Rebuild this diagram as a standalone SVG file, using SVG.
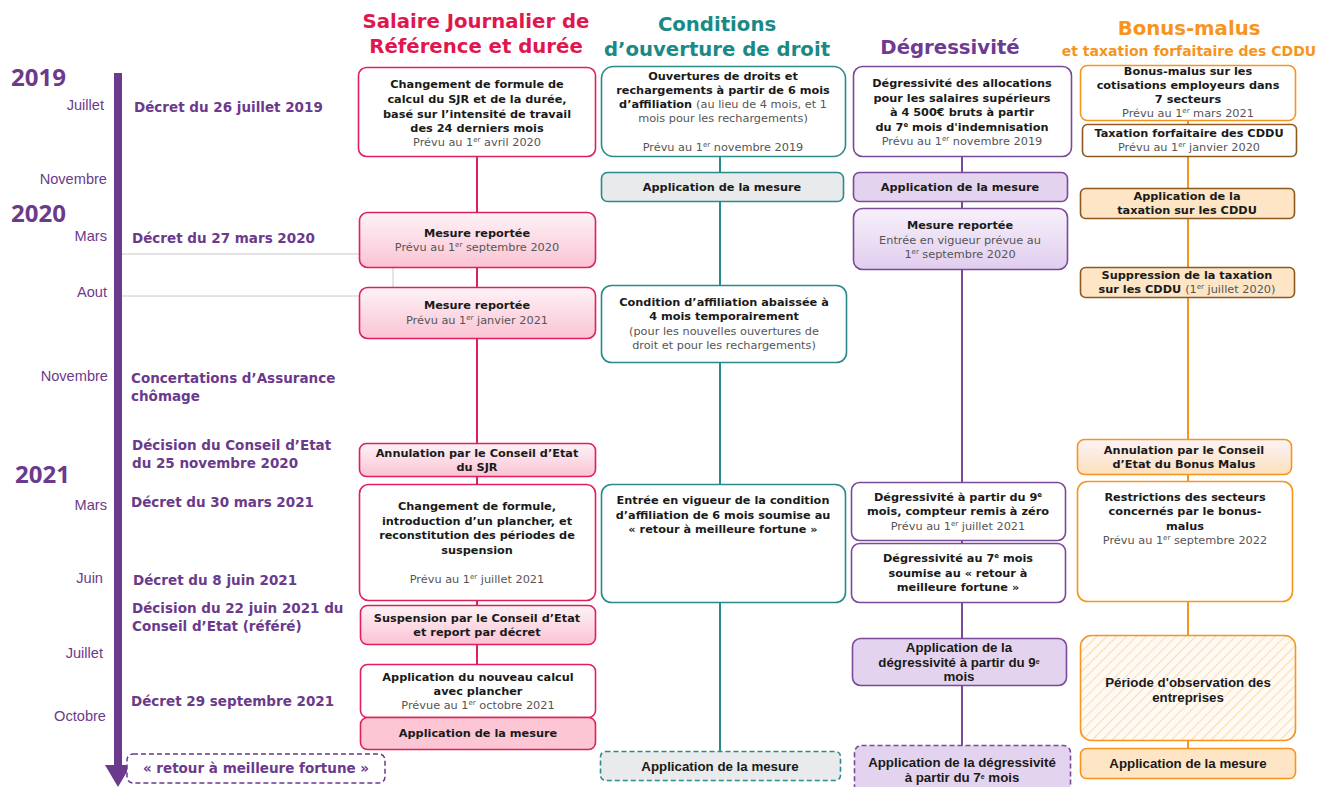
<svg xmlns="http://www.w3.org/2000/svg" width="1318" height="787" viewBox="0 0 1318 787">
<style>
text{font-family:"DejaVu Sans","Open Sans",sans-serif}
.b{font-weight:700;font-size:11.3px;fill:#1a1a1a;text-anchor:middle}
.r{font-weight:400;fill:#555}
.k{font-family:"Liberation Sans",Arial,sans-serif;font-weight:700;font-size:13.3px;fill:#1a1a1a;text-anchor:middle}
.ev{font-weight:700;font-size:13.5px;fill:#6b3a8c}
.mo{font-family:"Liberation Sans",Arial,sans-serif;font-size:14.6px;fill:#6b3a8c;text-anchor:end}
.yr{font-family:"Open Sans",sans-serif;font-weight:700;font-size:24px;fill:#6b3a8c}
.hd{font-weight:700;font-size:19.7px;text-anchor:middle}
.sup{font-size:7px}
.red{fill:none;stroke:#e0205a;stroke-width:1.6}
.tea{fill:none;stroke:#2a8a8a;stroke-width:1.6}
.pur{fill:none;stroke:#7a4a9a;stroke-width:1.6}
.ora{fill:none;stroke:#f7941d;stroke-width:1.6}
.brn{fill:none;stroke:#8c5a1f;stroke-width:1.6}
</style>
<defs>
<linearGradient id="gPink" x1="0" y1="0" x2="0" y2="1"><stop offset="0" stop-color="#fdf3f7"/><stop offset="1" stop-color="#fbc3d4"/></linearGradient>
<linearGradient id="gPur" x1="0" y1="0" x2="0" y2="1"><stop offset="0" stop-color="#f7f1fb"/><stop offset="1" stop-color="#e1cdee"/></linearGradient>
<linearGradient id="gOra" x1="0" y1="0" x2="0" y2="1"><stop offset="0" stop-color="#fbf3f7"/><stop offset="1" stop-color="#fde0bd"/></linearGradient>
<pattern id="hatch" width="7" height="7" patternUnits="userSpaceOnUse" patternTransform="rotate(45)"><rect width="7" height="7" fill="#fffaf3"/><line x1="0" y1="0" x2="0" y2="7" stroke="#f9dcb5" stroke-width="2.2"/></pattern>
</defs>
<rect width="1318" height="787" fill="#ffffff"/>

<!-- timeline -->
<g id="timeline">
<rect x="114" y="73" width="8" height="695" fill="#6b3a8c"/>
<polygon points="105,765 131,765 118,787" fill="#6b3a8c"/>
<line x1="122" y1="254" x2="359" y2="254" stroke="#c8c8c8" stroke-width="1"/>
<line x1="122" y1="296" x2="359" y2="296" stroke="#c8c8c8" stroke-width="1"/>
<line x1="393" y1="267" x2="393" y2="287" stroke="#c8c8c8" stroke-width="1"/>
<text class="yr" x="11" y="86">2019</text>
<text class="yr" x="11" y="222">2020</text>
<text class="yr" x="15" y="483">2021</text>
<text class="mo" x="104" y="110">Juillet</text>
<text class="mo" x="107" y="184">Novembre</text>
<text class="mo" x="107" y="241">Mars</text>
<text class="mo" x="107" y="297">Aout</text>
<text class="mo" x="108" y="381">Novembre</text>
<text class="mo" x="107" y="510">Mars</text>
<text class="mo" x="103" y="583">Juin</text>
<text class="mo" x="103" y="658">Juillet</text>
<text class="mo" x="106" y="721">Octobre</text>
<text class="ev" x="134" y="112">Décret du 26 juillet 2019</text>
<text class="ev" x="132" y="243">Décret du 27 mars 2020</text>
<text class="ev" x="131" y="383">Concertations d’Assurance</text>
<text class="ev" x="131" y="401">chômage</text>
<text class="ev" x="132" y="450">Décision du Conseil d’Etat</text>
<text class="ev" x="132" y="468">du 25 novembre 2020</text>
<text class="ev" x="131" y="507">Décret du 30 mars 2021</text>
<text class="ev" x="133" y="585">Décret du 8 juin 2021</text>
<text class="ev" x="132" y="613">Décision du 22 juin 2021 du</text>
<text class="ev" x="132" y="631">Conseil d’Etat (référé)</text>
<text class="ev" x="131" y="706">Décret 29 septembre 2021</text>
</g>
<g id="retour">
<rect x="127" y="754" width="258" height="29" rx="6" fill="#fff" stroke="#6b3a8c" stroke-width="1.5" stroke-dasharray="5,3"/>
<text class="ev" x="256" y="773" text-anchor="middle">« retour à meilleure fortune »</text>
</g>

<!-- headers -->
<g id="headers">
<text class="hd" x="476" y="28" fill="#e0174f">Salaire Journalier de</text>
<text class="hd" x="476" y="53" fill="#e0174f">Référence et durée</text>
<text class="hd" x="717" y="31" fill="#1a8a87">Conditions</text>
<text class="hd" x="717" y="56" fill="#1a8a87">d’ouverture de droit</text>
<text class="hd" x="950" y="54" fill="#6f3a92">Dégressivité</text>
<text class="hd" x="1189" y="35" fill="#f7941d">Bonus-malus</text>
<text class="hd" x="1189" y="56" fill="#f7941d" style="font-size:14px">et taxation forfaitaire des CDDU</text>
</g>

<!-- connectors -->
<g id="connectors">
<line x1="477" y1="157" x2="477" y2="717" stroke="#e0205a" stroke-width="2"/>
<line x1="720" y1="156" x2="720" y2="751" stroke="#2a8a8a" stroke-width="2"/>
<line x1="962" y1="156" x2="962" y2="746" stroke="#7a4a9a" stroke-width="2"/>
<line x1="1188" y1="120" x2="1188" y2="748" stroke="#f7941d" stroke-width="2"/>
</g>

<!-- column 1 -->
<g id="sjr1"><rect class="red" x="358.5" y="67.5" width="237" height="89" rx="8" style="fill:#fff"/>
<text class="b" x="477" y="88">Changement de formule de</text>
<text class="b" x="477" y="103">calcul du SJR et de la durée,</text>
<text class="b" x="477" y="118">basé sur l’intensité de travail</text>
<text class="b" x="477" y="132">des 24 derniers mois</text>
<text class="b r" x="477" y="146">Prévu au 1<tspan class="sup" baseline-shift="super">er</tspan> avril 2020</text></g>
<g id="sjr2"><rect class="red" x="359.5" y="212.5" width="236" height="55" rx="8" style="fill:url(#gPink)"/>
<text class="b" x="477" y="237">Mesure reportée</text>
<text class="b r" x="477" y="251">Prévu au 1<tspan class="sup" baseline-shift="super">er</tspan> septembre 2020</text></g>
<g id="sjr3"><rect class="red" x="359.5" y="287.5" width="236" height="51" rx="8" style="fill:url(#gPink)"/>
<text class="b" x="477" y="309">Mesure reportée</text>
<text class="b r" x="477" y="324">Prévu au 1<tspan class="sup" baseline-shift="super">er</tspan> janvier 2021</text></g>
<g id="sjr4"><rect class="red" x="359.5" y="443.5" width="236" height="33" rx="7" style="fill:url(#gPink)"/>
<text class="b" x="477" y="457">Annulation par le Conseil d’Etat</text>
<text class="b" x="477" y="471">du SJR</text></g>
<g id="sjr5"><rect class="red" x="359.5" y="484.5" width="236" height="116" rx="9" style="fill:#fff"/>
<text class="b" x="477" y="510">Changement de formule,</text>
<text class="b" x="477" y="525">introduction d’un plancher, et</text>
<text class="b" x="477" y="539">reconstitution des périodes de</text>
<text class="b" x="477" y="554">suspension</text>
<text class="b r" x="477" y="583">Prévu au 1<tspan class="sup" baseline-shift="super">er</tspan> juillet 2021</text></g>
<g id="sjr6"><rect class="red" x="360.5" y="605.5" width="235" height="39" rx="7" style="fill:url(#gPink)"/>
<text class="b" x="477" y="622">Suspension par le Conseil d’Etat</text>
<text class="b" x="477" y="636">et report par décret</text></g>
<g id="sjr7"><rect class="red" x="360.5" y="664.5" width="235" height="53" rx="7" style="fill:#fff"/>
<text class="b" x="478" y="681">Application du nouveau calcul</text>
<text class="b" x="478" y="695">avec plancher</text>
<text class="b r" x="478" y="709">Prévue au 1<tspan class="sup" baseline-shift="super">er</tspan> octobre 2021</text></g>
<g id="sjr8"><rect class="red" x="360.5" y="717.5" width="235" height="32" rx="7" style="fill:#fcc6d5"/>
<text class="b" x="478" y="737">Application de la mesure</text></g>

<!-- column 2 -->
<g id="cond1"><rect class="tea" x="601.5" y="66.5" width="244" height="90" rx="12" style="fill:#fff"/>
<text class="b" x="723" y="80">Ouvertures de droits et</text>
<text class="b" x="723" y="94">rechargements à partir de 6 mois</text>
<text class="b" x="723" y="108">d’affiliation <tspan class="r">(au lieu de 4 mois, et 1</tspan></text>
<text class="b r" x="723" y="122">mois pour les rechargements)</text>
<text class="b r" x="723" y="151">Prévu au 1<tspan class="sup" baseline-shift="super">er</tspan> novembre 2019</text></g>
<g id="cond2"><rect class="tea" x="601.5" y="172.5" width="242" height="29" rx="6" style="fill:#e8eaec"/>
<text class="b" x="722" y="191">Application de la mesure</text></g>
<g id="cond3"><rect class="tea" x="601.5" y="285.5" width="245" height="77" rx="10" style="fill:#fff"/>
<text class="b" x="724" y="306">Condition d’affiliation abaissée à</text>
<text class="b" x="724" y="320">4 mois temporairement</text>
<text class="b r" x="724" y="335">(pour les nouvelles ouvertures de</text>
<text class="b r" x="724" y="349">droit et pour les rechargements)</text></g>
<g id="cond4"><rect class="tea" x="601.5" y="484.5" width="244" height="118" rx="10" style="fill:#fff"/>
<text class="b" x="723" y="504">Entrée en vigueur de la condition</text>
<text class="b" x="723" y="519">d’affiliation de 6 mois soumise au</text>
<text class="b" x="723" y="533">« retour à meilleure fortune »</text></g>
<g id="cond5"><rect class="tea" x="600.5" y="751.5" width="240" height="29" rx="5" style="fill:#e8eaec;stroke-dasharray:5,3"/>
<text class="k" x="720" y="771">Application de la mesure</text></g>

<!-- column 3 -->
<g id="deg1"><rect class="pur" x="853.5" y="66.5" width="218" height="90" rx="9" style="fill:#fff"/>
<text class="b" x="962" y="87">Dégressivité des allocations</text>
<text class="b" x="962" y="102">pour les salaires supérieurs</text>
<text class="b" x="962" y="116">à 4 500€ bruts à partir</text>
<text class="b" x="962" y="131">du 7<tspan class="sup" baseline-shift="super">e</tspan> mois d'indemnisation</text>
<text class="b r" x="962" y="145">Prévu au 1<tspan class="sup" baseline-shift="super">er</tspan> novembre 2019</text></g>
<g id="deg2"><rect class="pur" x="853.5" y="172.5" width="214" height="29" rx="6" style="fill:#e4d3ee"/>
<text class="b" x="960" y="191">Application de la mesure</text></g>
<g id="deg3"><rect class="pur" x="853.5" y="208.5" width="214" height="61" rx="9" style="fill:url(#gPur)"/>
<text class="b" x="960" y="229">Mesure reportée</text>
<text class="b r" x="960" y="244">Entrée en vigueur prévue au</text>
<text class="b r" x="960" y="258">1<tspan class="sup" baseline-shift="super">er</tspan> septembre 2020</text></g>
<g id="deg4"><rect class="pur" x="851.5" y="482.5" width="214" height="58" rx="8" style="fill:#fff"/>
<text class="b" x="958" y="501">Dégressivité à partir  du 9<tspan class="sup" baseline-shift="super">e</tspan></text>
<text class="b" x="958" y="515">mois, compteur remis à zéro</text>
<text class="b r" x="958" y="530">Prévu au 1<tspan class="sup" baseline-shift="super">er</tspan> juillet 2021</text></g>
<g id="deg5"><rect class="pur" x="851.5" y="543.5" width="214" height="59" rx="8" style="fill:#fff"/>
<text class="b" x="958" y="562">Dégressivité au 7<tspan class="sup" baseline-shift="super">e</tspan> mois</text>
<text class="b" x="958" y="577">soumise au « retour à</text>
<text class="b" x="958" y="591">meilleure fortune »</text></g>
<g id="deg6"><rect class="pur" x="852.5" y="638.5" width="214" height="47" rx="8" style="fill:#e4d3ee"/>
<text class="k" x="959" y="652">Application de la</text>
<text class="k" x="959" y="667">dégressivité à partir du 9<tspan class="sup" baseline-shift="super">e</tspan></text>
<text class="k" x="959" y="681">mois</text></g>
<g id="deg7"><rect class="pur" x="854.5" y="745.5" width="216" height="50" rx="7" style="fill:#e4d3ee;stroke-dasharray:5,3"/>
<text class="k" x="962" y="767">Application de la dégressivité</text>
<text class="k" x="962" y="782">à partir du 7<tspan class="sup" baseline-shift="super">e</tspan> mois</text></g>

<!-- column 4 -->
<g id="bm1"><rect class="ora" x="1080.5" y="65.5" width="215" height="55" rx="7" style="fill:#fff"/>
<text class="b" x="1188" y="75">Bonus-malus sur les</text>
<text class="b" x="1188" y="89">cotisations employeurs dans</text>
<text class="b" x="1188" y="103">7 secteurs</text>
<text class="b r" x="1188" y="117">Prévu au 1<tspan class="sup" baseline-shift="super">er</tspan> mars 2021</text></g>
<g id="bm2"><rect class="brn" x="1082.5" y="124.5" width="214" height="32" rx="5" style="fill:#fff"/>
<text class="b" x="1189" y="137">Taxation forfaitaire des CDDU</text>
<text class="b r" x="1189" y="151">Prévu au 1<tspan class="sup" baseline-shift="super">er</tspan> janvier 2020</text></g>
<g id="bm3"><rect class="brn" x="1080.5" y="188.5" width="214" height="30" rx="5" style="fill:#fde5c6"/>
<text class="b" x="1187" y="200">Application de la</text>
<text class="b" x="1187" y="214">taxation sur les CDDU</text></g>
<g id="bm4"><rect class="brn" x="1080.5" y="267.5" width="214" height="30" rx="5" style="fill:#fde5c6"/>
<text class="b" x="1187" y="279">Suppression de la taxation</text>
<text class="b" x="1187" y="293">sur les CDDU <tspan class="r">(1<tspan class="sup" baseline-shift="super">er</tspan> juillet 2020)</tspan></text></g>
<g id="bm5"><rect class="ora" x="1077.5" y="439.5" width="214" height="35" rx="7" style="fill:url(#gOra)"/>
<text class="b" x="1184" y="454">Annulation par le Conseil</text>
<text class="b" x="1184" y="468">d’Etat  du Bonus Malus</text></g>
<g id="bm6"><rect class="ora" x="1077.5" y="481.5" width="215" height="120" rx="10" style="fill:#fff"/>
<text class="b" x="1185" y="501">Restrictions des secteurs</text>
<text class="b" x="1185" y="515">concernés par le bonus-</text>
<text class="b" x="1185" y="530">malus</text>
<text class="b r" x="1185" y="544">Prévu au 1<tspan class="sup" baseline-shift="super">er</tspan> septembre 2022</text></g>
<g id="bm7"><rect class="ora" x="1080.5" y="635.5" width="215" height="105" rx="11" style="fill:url(#hatch)"/>
<text class="k" x="1188" y="687">Période d'observation des</text>
<text class="k" x="1188" y="702">entreprises</text></g>
<g id="bm8"><rect class="ora" x="1080.5" y="748.5" width="215" height="30" rx="6" style="fill:#fde5c6"/>
<text class="k" x="1188" y="768">Application de la mesure</text></g>
</svg>
